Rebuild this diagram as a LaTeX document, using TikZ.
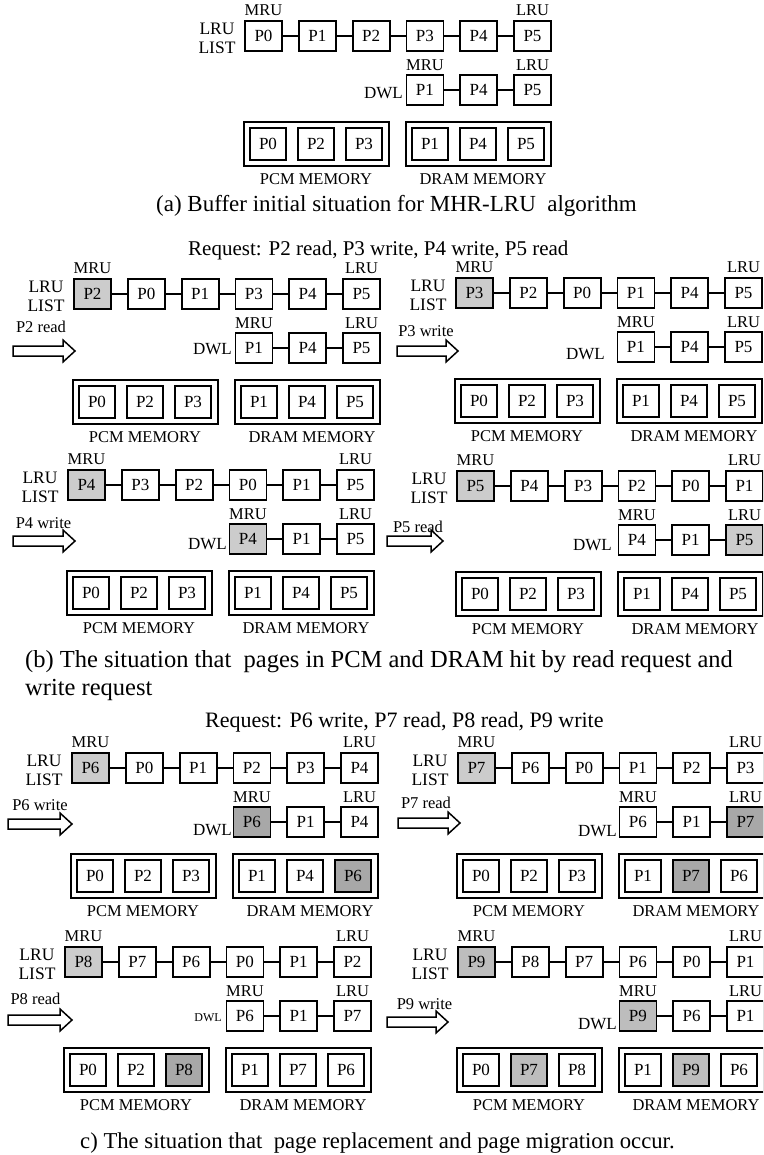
\documentclass[tikz,border=0pt]{standalone}
\usepackage{fontspec}
\setmainfont{Liberation Serif}
\definecolor{gA}{gray}{0.80}
\definecolor{gB}{gray}{0.66}
\definecolor{gC}{gray}{0.74}
\tikzset{
  pbox/.style={draw, line width=1.8pt, minimum width=37pt, minimum height=30pt, inner sep=0pt, font=\fontsize{17}{17}\selectfont},
  mbox/.style={pbox, minimum width=36pt, minimum height=32pt},
  outerbox/.style={draw, line width=1.8pt, minimum width=145pt, minimum height=44pt, inner sep=0pt},
  lbl/.style={inner sep=0pt, font=\fontsize{16.5}{16.5}\selectfont},
  conn/.style={line width=1.3pt},
  arrowline/.style={line width=1.5pt, line join=miter},
  captxt/.style={anchor=base west, inner sep=0pt},
}
% #1 prefix, #2 x0, #3 y0, #4 LRU list, #5 DWL, #6 PCM, #7 DRAM, #8 DWL label pos, #9 DWL label extra style
\newcommand{\drawpanel}[9]{%
\begin{scope}[shift={(#2,#3)}, name prefix=#1-]
  \foreach \t/\f [count=\i from 0] in {#4} {\node[pbox, fill=\f] (L\i) at ({18.5+53.8*\i},15) {\t};}
  \foreach \i in {0,...,4} {\pgfmathtruncatemacro\j{\i+1}\draw[conn] (L\i.east) -- (L\j.west);}
  \foreach \t/\f [count=\i from 0] in {#5} {\node[pbox, fill=\f] (D\i) at ({18.5+53.8*(\i+3)},69) {\t};}
  \foreach \i in {0,1} {\pgfmathtruncatemacro\j{\i+1}\draw[conn] (D\i.east) -- (D\j.west);}
  \node[lbl] (mru) at (18.5,-11) {MRU};
  \node[lbl] (lru) at (287.5,-11) {LRU};
  \node[lbl] (dmru) at (179.9,44) {MRU};
  \node[lbl] (dlru) at (287.5,44) {LRU};
  \node[lbl, align=center, font=\fontsize{17.5}{19}\selectfont] (lrulist) at (-28,17) {LRU\\LIST};
  \node[lbl, anchor=east, font=\fontsize{17}{17}\selectfont, #9] (dwl) at (#8) {DWL};
  \node[outerbox] (pcm) at (71.5,123) {};
  \node[outerbox] (dram) at (233.5,123) {};
  \foreach \t/\f [count=\i from 0] in {#6} {\node[mbox, fill=\f] (M\i) at ({23+48*\i},123) {\t};}
  \foreach \t/\f [count=\i from 0] in {#7} {\node[mbox, fill=\f] (R\i) at ({185+48*\i},123) {\t};}
  \node[lbl] (pcmlbl) at (71,158) {PCM MEMORY};
  \node[lbl] (dramlbl) at (238,158) {DRAM MEMORY};
\end{scope}}
% #1 name, #2 x start, #3 x tip, #4 y, #5 label x, #6 label y, #7 label
\newcommand{\fatarrow}[7]{%
  \draw[arrowline] (#2,#4-5) -- (#3-12,#4-5) -- (#3-12,#4-11) -- (#3,#4) -- (#3-12,#4+11) -- (#3-12,#4+5) -- (#2,#4+5) -- cycle;
  \coordinate (#1) at (#2,#4);
  \node[lbl] (#1-lbl) at (#5,#6) {#7};}
\begin{document}
\begin{tikzpicture}[x=1pt, y=-1pt]
\path[use as bounding box] (0,0) rectangle (763,1155);
\clip (0,0) rectangle (763,1155);
% (a)
\drawpanel{a}{245}{21}{P0/white,P1/white,P2/white,P3/white,P4/white,P5/white}{P1/white,P4/white,P5/white}{P0/white,P2/white,P3/white}{P1/white,P4/white,P5/white}{158,72}{}
\node[captxt, font=\fontsize{23}{23}\selectfont] (capa) at (156,212) {(a) Buffer initial situation for MHR-LRU~ algorithm};
% (b)
\node[captxt, font=\fontsize{21}{21}\selectfont] (reqb) at (188,256) {Request: P2 read, P3 write, P4 write, P5 read};
\drawpanel{b1}{74}{279}{P2/gA,P0/white,P1/white,P3/white,P4/white,P5/white}{P1/white,P4/white,P5/white}{P0/white,P2/white,P3/white}{P1/white,P4/white,P5/white}{158,70}{}
\fatarrow{arb1}{13}{75}{351}{41}{327}{P2 read}
\drawpanel{b2}{456}{278}{P3/gA,P2/white,P0/white,P1/white,P4/white,P5/white}{P1/white,P4/white,P5/white}{P0/white,P2/white,P3/white}{P1/white,P4/white,P5/white}{149,76}{}
\fatarrow{arb2}{397}{458}{351}{426}{331}{P3 write}
\drawpanel{b3}{68}{470}{P4/gA,P3/white,P2/white,P0/white,P1/white,P5/white}{P4/gA,P1/white,P5/white}{P0/white,P2/white,P3/white}{P1/white,P4/white,P5/white}{159,74}{}
\fatarrow{arb3}{13}{75}{541}{43.5}{523}{P4 write}
\drawpanel{b4}{457}{471}{P5/gA,P4/white,P3/white,P2/white,P0/white,P1/white}{P4/white,P1/white,P5/gA}{P0/white,P2/white,P3/white}{P1/white,P4/white,P5/white}{155,74}{}
\fatarrow{arb4}{387}{443}{541}{418}{527}{P5 read}
\node[captxt, font=\fontsize{24.5}{24.5}\selectfont] (capb1) at (25,667) {(b) The situation that~ pages in PCM and DRAM hit by read request and};
\node[captxt, font=\fontsize{24.5}{24.5}\selectfont] (capb2) at (25,695) {write request};
% (c)
\node[captxt, font=\fontsize{22}{22}\selectfont] (reqc) at (205,727) {Request: P6 write, P7 read, P8 read, P9 write};
\drawpanel{c1}{72}{753}{P6/gA,P0/white,P1/white,P2/white,P3/white,P4/white}{P6/gB,P1/white,P4/white}{P0/white,P2/white,P3/white}{P1/white,P4/white,P6/gB}{160,77}{}
\fatarrow{arc1}{8}{72}{824}{40}{805}{P6 write}
\drawpanel{c2}{458}{753}{P7/gA,P6/white,P0/white,P1/white,P2/white,P3/white}{P6/white,P1/white,P7/gB}{P0/white,P2/white,P3/white}{P1/white,P7/gB,P6/white}{159,78}{}
\fatarrow{arc2}{398}{460}{823}{426}{803}{P7 read}
\drawpanel{c3}{65}{947}{P8/gA,P7/white,P6/white,P0/white,P1/white,P2/white}{P6/white,P1/white,P7/white}{P0/white,P2/white,P8/gB}{P1/white,P7/white,P6/white}{157,70.5}{font=\fontsize{12}{12}\selectfont}
\fatarrow{arc3}{8}{72}{1020}{35.5}{999}{P8 read}
\drawpanel{c4}{458}{947}{P9/gC,P8/white,P7/white,P6/white,P0/white,P1/white}{P9/gC,P6/white,P1/white}{P0/white,P7/gC,P8/white}{P1/white,P9/gC,P6/white}{159,77}{}
\fatarrow{arc4}{387}{448}{1022}{424.5}{1004}{P9 write}
\node[captxt, font=\fontsize{22.7}{22.7}\selectfont] (capc) at (80,1148) {c) The situation that~ page replacement and page migration occur.};
\end{tikzpicture}
\end{document}
